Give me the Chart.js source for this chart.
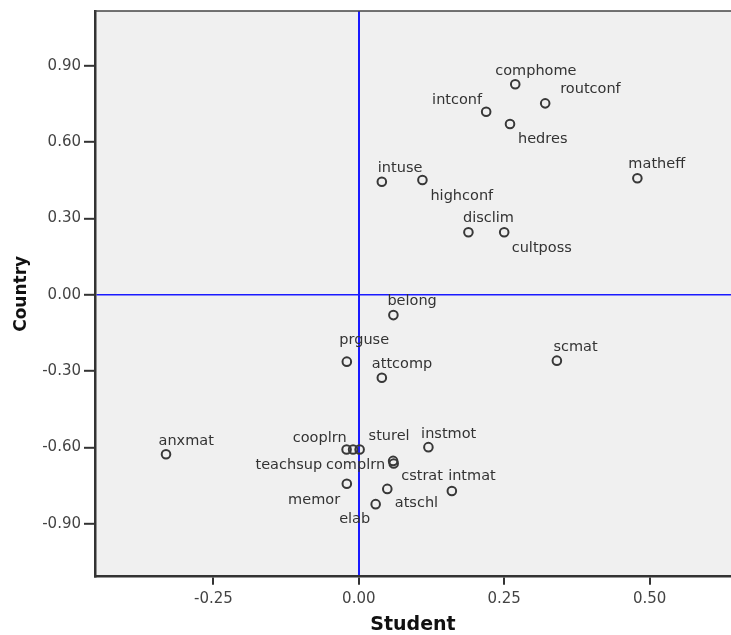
<!DOCTYPE html>
<html>
<head>
<meta charset="utf-8">
<script src="https://cdn.jsdelivr.net/npm/chart.js@4/dist/chart.umd.min.js"></script>
<style>
  html, body { margin: 0; padding: 0; background: #ffffff; overflow: hidden; }
  canvas { display: block; }
</style>
</head>
<body>
<canvas id="c" width="731" height="635"></canvas>
<script>
// ---- data ----
const categories = ["comphome","routconf","intconf","hedres","intuse","highconf","matheff",
  "disclim","cultposs","belong","prguse","attcomp","scmat","anxmat","cooplrn","teachsup",
  "sturel","complrn","cstrat","atschl","elab","memor","instmot","intmat"];
const studentValues = [0.269, 0.3205, 0.219, 0.260, 0.0396, 0.1094, 0.479,
  0.1885, 0.250, 0.0595, -0.0206, 0.0396, 0.3406, -0.3315, -0.021, -0.0098,
  0.0014, 0.059, 0.060, 0.049, 0.029, -0.0206, 0.1197, 0.160];
const countryValues = [0.827, 0.752, 0.719, 0.671, 0.444, 0.451, 0.458,
  0.2456, 0.2456, -0.080, -0.263, -0.326, -0.259, -0.627, -0.608, -0.608,
  -0.608, -0.653, -0.663, -0.763, -0.823, -0.743, -0.599, -0.771];
const xTickValues = [-0.25, 0.00, 0.25, 0.50];
const yTickValues = [-0.90, -0.60, -0.30, 0.00, 0.30, 0.60, 0.90];

// ---- label placement (layout only) : [align, dx, dy] ----
const labelPlacement = [
  ["left",-20,-13.3],["left",15,-14],["right",-4,-12],["left",8,15],["left",-4,-13.5],
  ["left",8,16.5],["left",-9,-14],["left",-5.5,-14],["left",7.5,16],["left",-6,-13.5],
  ["left",-7.5,-21],["left",-10,-13.7],["left",-3.5,-13.5],["left",-7.5,-13.5],
  ["right",0,-11],["right",-31,15.5],["left",9,-12.8],["right",-8,4],["left",7.5,12.5],
  ["left",7.5,14.3],["center",-21,14.7],["right",-6.7,16],["left",-7.3,-13.3],["left",-3.7,-14.3]
];

const points = categories.map((n, i) => ({ x: studentValues[i], y: countryValues[i] }));

const bgPlugin = {
  id: 'bg',
  beforeDraw(chart) {
    const { ctx, chartArea: a } = chart;
    ctx.save();
    ctx.fillStyle = '#f0f0f0';
    ctx.fillRect(a.left, a.top, a.right - a.left, a.bottom - a.top);
    ctx.restore();
  },
  afterDraw(chart) {
    const { ctx, chartArea: a } = chart;
    ctx.save();
    ctx.strokeStyle = '#444';
    ctx.lineWidth = 1.5;
    ctx.beginPath();
    ctx.moveTo(a.left, a.top);
    ctx.lineTo(a.right, a.top);
    ctx.stroke();
    ctx.restore();
  }
};

const labelPlugin = {
  id: 'pointLabels',
  afterDatasetsDraw(chart) {
    const { ctx } = chart;
    const meta = chart.getDatasetMeta(0);
    ctx.save();
    ctx.font = '14.5px "DejaVu Sans"';
    ctx.fillStyle = '#333333';
    ctx.textBaseline = 'middle';
    meta.data.forEach((el, i) => {
      const p = labelPlacement[i];
      ctx.textAlign = p[0];
      ctx.fillText(categories[i], el.x + p[1], el.y + p[2]);
    });
    ctx.restore();
  }
};

const zeroColor = ctx => (ctx.tick && ctx.tick.value === 0) ? '#1a1aff' : 'rgba(0,0,0,0)';

new Chart(document.getElementById('c'), {
  type: 'scatter',
  data: {
    datasets: [{
      data: points,
      pointStyle: 'circle',
      pointRadius: 4.3,
      pointBorderWidth: 2,
      pointBorderColor: '#383838',
      pointBackgroundColor: 'rgba(0,0,0,0)'
    }]
  },
  options: {
    responsive: false,
    animation: false,
    layout: { autoPadding: false, padding: { top: 11, right: 0, left: 0, bottom: 0 } },
    plugins: { legend: { display: false }, tooltip: { enabled: false } },
    scales: {
      x: {
        type: 'linear',
        min: -0.4536,
        max: 0.640,
        z: 1,
        afterBuildTicks: s => { s.ticks = xTickValues.map(v => ({ value: v })); },
        afterFit: s => { s.height = 58.3; s.paddingLeft = 0; s.paddingRight = 0; },
        ticks: {
          callback: v => Number(v).toFixed(2),
          color: '#444444',
          font: { family: 'DejaVu Sans', size: 15 },
          padding: 5,
          maxRotation: 0
        },
        grid: {
          color: zeroColor,
          lineWidth: 2,
          tickColor: '#333333',
          tickLength: 8,
          tickWidth: 2
        },
        border: { display: true, color: '#333333', width: 2.5 },
        title: {
          display: true,
          text: 'Student',
          color: '#111111',
          font: { family: 'DejaVu Sans', size: 19, weight: 'bold', lineHeight: 1 },
          padding: { top: 0, bottom: 0 }
        }
      },
      y: {
        type: 'linear',
        min: -1.108,
        max: 1.115,
        z: 1,
        afterBuildTicks: s => { s.ticks = yTickValues.map(v => ({ value: v })); },
        afterFit: s => { s.width = 95; s.paddingTop = 0; s.paddingBottom = 0; },
        ticks: {
          callback: v => Number(v).toFixed(2),
          color: '#444444',
          font: { family: 'DejaVu Sans', size: 15 },
          padding: 3
        },
        grid: {
          color: zeroColor,
          lineWidth: 1.6,
          tickColor: '#333333',
          tickLength: 11,
          tickWidth: 2
        },
        border: { display: true, color: '#333333', width: 2.5 },
        title: {
          display: true,
          text: 'Country',
          color: '#111111',
          font: { family: 'DejaVu Sans', size: 17, weight: 'bold', lineHeight: 1 },
          padding: { top: 13, bottom: 0 }
        }
      }
    }
  },
  plugins: [bgPlugin, labelPlugin]
});
</script>
</body>
</html>
